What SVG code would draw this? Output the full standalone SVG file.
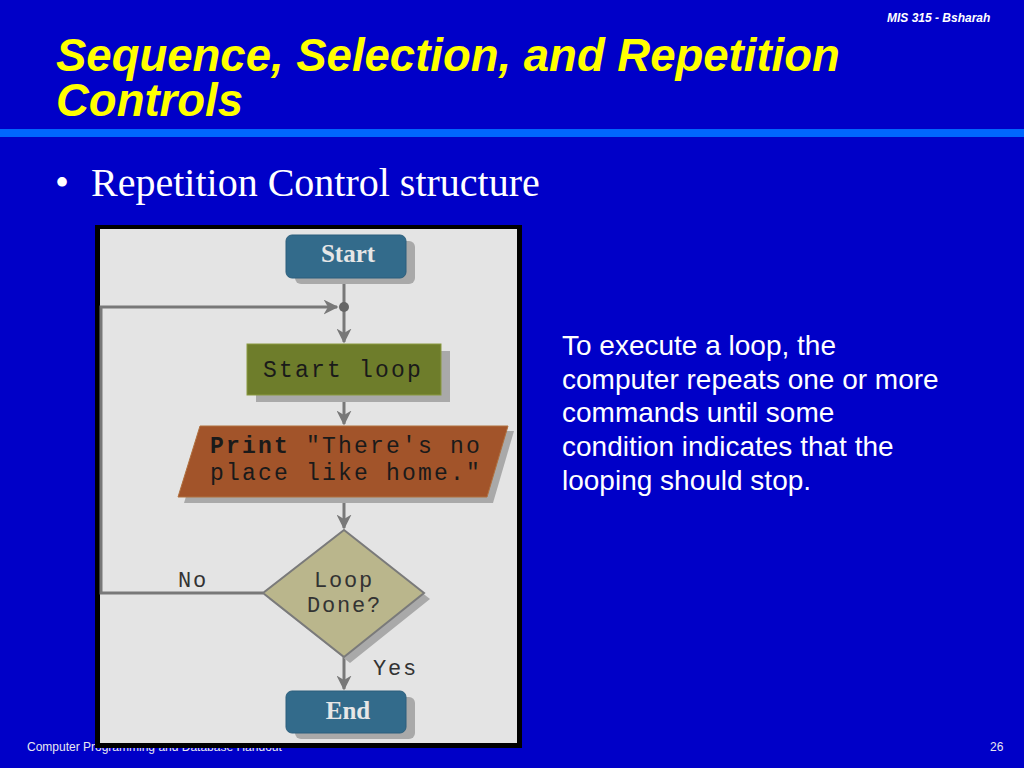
<svg xmlns="http://www.w3.org/2000/svg" width="1024" height="768" viewBox="0 0 1024 768">
<defs>
<style>
.title{font-family:"Liberation Sans",Arial,sans-serif;font-weight:bold;font-style:italic;font-size:45.5px;fill:#ffff00}
.hdr{font-family:"Liberation Sans",Arial,sans-serif;font-weight:bold;font-style:italic;font-size:12px;fill:#ffffff}
.ftr{font-family:"Liberation Sans",Arial,sans-serif;font-size:12px;fill:#e8e8f0}
.bullet{font-family:"Liberation Serif","Times New Roman",serif;font-size:40px;fill:#ffffff}
.body{font-family:"Liberation Sans",Arial,sans-serif;font-size:28px;fill:#ffffff}
.term{font-family:"Liberation Serif","Times New Roman",serif;font-weight:bold;font-size:25px;fill:#e6e6e6;text-anchor:middle}
.mono{font-family:"Liberation Mono","Courier New",monospace;font-size:23px;letter-spacing:2.2px;fill:#1a1a1a}
.lbl{font-family:"Liberation Mono","Courier New",monospace;font-size:22px;letter-spacing:1.8px;fill:#333333}
.shadow{fill:#a9a9a9}
.termbox{fill:#336b8b;stroke:#2d5f7c;stroke-width:1}
.conn{fill:none;stroke:#787878;stroke-width:3}
</style>
<marker id="ah" viewBox="0 0 10 10" refX="9" refY="5" markerWidth="5" markerHeight="5" orient="auto" markerUnits="strokeWidth">
<path d="M0,0 L10,5 L0,10 L3,5 Z" fill="#787878"/>
</marker>
</defs>
<rect x="0" y="0" width="1024" height="768" fill="#0000c8"/>
<rect x="0" y="129" width="1024" height="8" fill="#0066ff"/>
<text class="hdr" x="887" y="22">MIS 315 - Bsharah</text>
<text class="title"><tspan x="56" y="71">Sequence, Selection, and Repetition</tspan><tspan x="56" y="116">Controls</tspan></text>
<text class="bullet" x="55" y="196">•</text>
<text class="bullet" x="91" y="196">Repetition Control structure</text>
<text class="ftr" x="27" y="751">Computer Programming and Database Handout</text>
<text class="ftr" x="990" y="751">26</text>
<g id="caption">
<text class="body" x="562" y="355">To execute a loop, the</text>
<text class="body" x="562" y="389">computer repeats one or more</text>
<text class="body" x="562" y="422">commands until some</text>
<text class="body" x="562" y="456">condition indicates that the</text>
<text class="body" x="562" y="490">looping should stop.</text>
</g>
<g id="frame">
<rect x="95" y="225" width="427" height="523" fill="#000000"/>
<rect x="100" y="229" width="417" height="514" fill="#e4e4e4"/>
</g>
<g id="connectors">
<line class="conn" x1="344" y1="278" x2="344" y2="307"/>
<line class="conn" x1="344" y1="307" x2="344" y2="342" marker-end="url(#ah)"/>
<line class="conn" x1="344" y1="395" x2="344" y2="424" marker-end="url(#ah)"/>
<line class="conn" x1="344" y1="497" x2="344" y2="528" marker-end="url(#ah)"/>
<line class="conn" x1="344" y1="657" x2="344" y2="689" marker-end="url(#ah)"/>
<polyline class="conn" points="263,593 101,593 101,307 337,307" marker-end="url(#ah)"/>
<circle cx="344" cy="307" r="5" fill="#666666"/>
<text class="lbl" x="178" y="587">No</text>
<text class="lbl" x="373" y="675">Yes</text>
</g>
<g id="start">
<rect class="shadow" x="295" y="241" width="120" height="43" rx="6"/>
<rect class="termbox" x="286" y="235" width="120" height="43" rx="6"/>
<text class="term" x="348" y="262">Start</text>
</g>
<g id="startloop">
<rect class="shadow" x="256" y="351" width="194" height="51"/>
<rect x="247" y="344" width="194" height="51" fill="#6e7d2b" stroke="#8a9a40" stroke-width="1"/>
<text class="mono" x="263" y="377">Start loop</text>
</g>
<g id="print">
<polygon class="shadow" points="206,431 514,431 493,503 184,503"/>
<polygon points="200,426 508,426 487,497 178,497" fill="#a2542a" stroke="#b0703f" stroke-width="1"/>
<text class="mono" x="210" y="453"><tspan font-weight="bold">Print</tspan> "There's no</text>
<text class="mono" x="210" y="480">place like home."</text>
</g>
<g id="decision">
<polygon class="shadow" points="350,536 430,599 350,663 269,599"/>
<polygon points="344,530 424,593 344,657 263,593" fill="#bab68c" stroke="#7a7a7a" stroke-width="2"/>
<text class="lbl" x="314" y="587">Loop</text>
<text class="lbl" x="307" y="612">Done?</text>
</g>
<g id="end">
<rect class="shadow" x="295" y="697" width="120" height="42" rx="6"/>
<rect class="termbox" x="286" y="691" width="120" height="42" rx="6"/>
<text class="term" x="348" y="719">End</text>
</g>
</svg>
